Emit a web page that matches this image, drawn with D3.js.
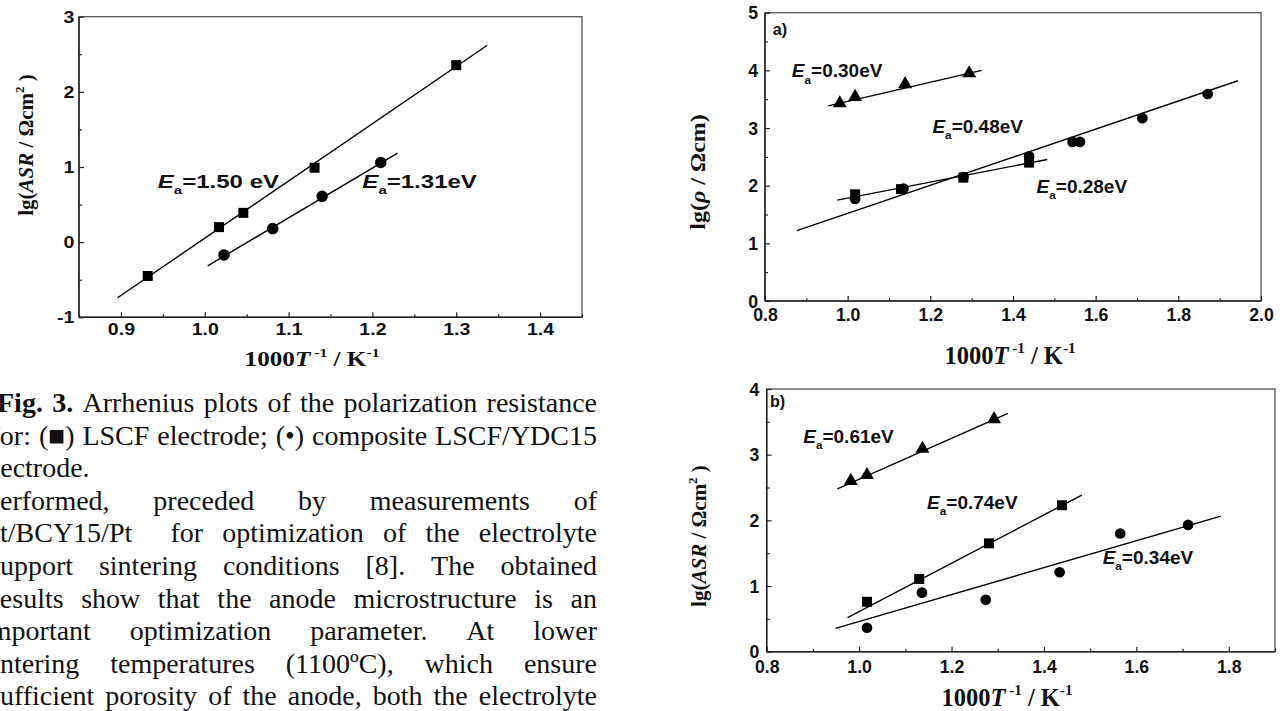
<!DOCTYPE html>
<html lang="en">
<head>
<meta charset="UTF-8">
<title>Arrhenius plots</title>
<style>
  html, body { margin: 0; padding: 0; background: #fff; overflow: hidden; }
  svg { display: block; }
  .axis .domain { display: none; }
  .axis .tick line { stroke: #222; stroke-width: 1.2px; }
  .axis .tick text { font-family: "Liberation Sans", Arial, sans-serif; font-weight: bold; fill: #111; }
</style>
</head>
<body>
<svg id="page" width="1288" height="711"></svg>
<script src="https://d3js.org/d3.v7.min.js"></script>
<script>
// ---------- Fig. 3 (left): polarization resistance ----------
const fig3XTicks = [0.9, 1.0, 1.1, 1.2, 1.3, 1.4];
const fig3YTicks = [-1, 0, 1, 2, 3];
const lscfX = [0.932, 1.017, 1.046, 1.131, 1.300];
const lscfY = [-0.45, 0.20, 0.39, 0.99, 2.355];
const lscfFitX = [0.896, 1.337];
const lscfFitY = [-0.74, 2.62];
const compX = [1.023, 1.081, 1.140, 1.210];
const compY = [-0.17, 0.18, 0.61, 1.06];
const compFitX = [1.0035, 1.230];
const compFitY = [-0.315, 1.184];
const fig3NoteX = [0.944, 1.188];
const fig3NoteY = [0.715, 0.715];
const fig3NoteText = ['=1.50 eV', '=1.31eV'];

// ---------- a) resistivity ----------
const aXTicks = [0.8, 1.0, 1.2, 1.4, 1.6, 1.8, 2.0];
const aYTicks = [0, 1, 2, 3, 4, 5];
const aTriX = [0.981, 1.018, 1.139, 1.294];
const aTriY = [3.43, 3.54, 3.76, 3.95];
const aTriFitX = [0.953, 1.324];
const aTriFitY = [3.385, 4.0];
const aCircX = [1.018, 1.135, 1.280, 1.439, 1.544, 1.562, 1.713, 1.871];
const aCircY = [1.77, 1.95, 2.15, 2.51, 2.76, 2.76, 3.17, 3.59];
const aCircFitX = [0.877, 1.944];
const aCircFitY = [1.22, 3.82];
const aSqX = [1.018, 1.129, 1.280, 1.439];
const aSqY = [1.85, 1.94, 2.14, 2.40];
const aSqFitX = [0.975, 1.483];
const aSqFitY = [1.75, 2.455];
const aNoteX = [0.865, 1.205, 1.457];
const aNoteY = [3.877, 2.917, 1.877];
const aNoteText = ['=0.30eV', '=0.48eV', '=0.28eV'];

// ---------- b) area specific resistance ----------
const bXTicks = [0.8, 1.0, 1.2, 1.4, 1.6, 1.8];
const bYTicks = [0, 1, 2, 3, 4];
const bTriX = [0.982, 1.017, 1.137, 1.292];
const bTriY = [2.60, 2.69, 3.09, 3.54];
const bTriFitX = [0.953, 1.322];
const bTriFitY = [2.48, 3.63];
const bSqX = [1.017, 1.130, 1.281, 1.439];
const bSqY = [0.76, 1.107, 1.65, 2.23];
const bSqFitX = [0.975, 1.482];
const bSqFitY = [0.52, 2.385];
const bCircX = [1.017, 1.136, 1.274, 1.434, 1.565, 1.712];
const bCircY = [0.365, 0.90, 0.79, 1.21, 1.80, 1.93];
const bCircFitX = [0.949, 1.783];
const bCircFitY = [0.356, 2.065];
const bNoteX = [0.879, 1.147, 1.527];
const bNoteY = [3.18, 2.167, 1.33];
const bNoteText = ['=0.61eV', '=0.74eV', '=0.34eV'];

// ---------- text column ----------
const bodyLines = [
  'Fig. 3. Arrhenius plots of the polarization resistance',
  'for: (\u25A0) LSCF electrode; (\u2022) composite LSCF/YDC15',
  'electrode.',
  'performed, preceded by measurements of',
  'Pt/BCY15/Pt  for optimization of the electrolyte',
  'support sintering conditions [8]. The obtained',
  'results show that the anode microstructure is an',
  'important optimization parameter. At lower',
  'sintering temperatures (1100\u00BAC), which ensure',
  'sufficient porosity of the anode, both the electrolyte'
];
const bodyIndent = [-3, -9.5, -20, -14, -15.6, -11, -9.5, -18, -18.7, -11];

const SANS = '"Liberation Sans", Arial, sans-serif';
const SERIF = '"Liberation Serif", "Times New Roman", serif';

const svg = d3.select('#page');
svg.append('rect').attr('width', 1288).attr('height', 711).attr('fill', '#fff');

// tspans with italic / sub / sup parts
function styled(t, parts, fs) {
  let shift = 0;
  parts.forEach(p => {
    const target = p.sup ? -0.45 * fs : p.sub ? 0.32 * fs : 0;
    const ts = t.append('tspan').text(p.t);
    if (target !== shift) ts.attr('dy', target - shift);
    shift = target;
    if (p.sup || p.sub) ts.attr('font-size', 0.62 * fs);
    if (p.i) ts.attr('font-style', 'italic');
  });
}

function putText(g, x, y, parts, o) {
  const t = g.append('text')
    .attr('transform', `translate(${x},${y}) scale(${o.sx || 1},1)` + (o.rotate ? ' rotate(-90)' : ''))
    .attr('font-family', o.family)
    .attr('font-weight', 'bold')
    .attr('font-size', o.fs)
    .attr('text-anchor', o.anchor || 'start')
    .attr('fill', '#111');
  styled(t, parts, o.fs);
  return t;
}

function minorTicks(dom, majors) {
  const half = (majors[1] - majors[0]) / 2;
  return d3.range(Math.ceil(dom[0] / half - 1e-6) * half, dom[1] + 1e-6, half)
    .filter(v => !majors.some(m => Math.abs(m - v) < 1e-6));
}

function drawChart(c) {
  const g = svg.append('g');
  const x = d3.scaleLinear().domain(c.xDom).range([c.box.l, c.box.r]);
  const y = d3.scaleLinear().domain(c.yDom).range([c.box.b, c.box.t]);

  // frame
  g.append('rect')
    .attr('x', c.box.l).attr('y', c.box.t)
    .attr('width', c.box.r - c.box.l).attr('height', c.box.b - c.box.t)
    .attr('fill', 'none').attr('stroke', '#555').attr('stroke-width', 1.3);

  // minor ticks
  g.append('g').attr('class', 'axis').attr('transform', `translate(0,${c.box.b})`)
    .call(d3.axisBottom(x).tickValues(minorTicks(c.xDom, c.xTicks)).tickSizeInner(-3).tickSizeOuter(0).tickFormat(''));
  g.append('g').attr('class', 'axis').attr('transform', `translate(${c.box.l},0)`)
    .call(d3.axisLeft(y).tickValues(minorTicks(c.yDom, c.yTicks)).tickSizeInner(-3).tickSizeOuter(0).tickFormat(''));

  // major ticks + labels
  const xa = g.append('g').attr('class', 'axis').attr('transform', `translate(0,${c.box.b})`)
    .call(d3.axisBottom(x).tickValues(c.xTicks).tickSizeInner(-5).tickSizeOuter(0)
      .tickPadding(c.xPad).tickFormat(d => d.toFixed(1)));
  const ya = g.append('g').attr('class', 'axis').attr('transform', `translate(${c.box.l},0)`)
    .call(d3.axisLeft(y).tickValues(c.yTicks).tickSizeInner(-5).tickSizeOuter(0)
      .tickPadding(c.yPad).tickFormat(d => String(d)));
  [xa, ya].forEach(a => a.selectAll('text')
    .attr('font-size', c.tickFs)
    .attr('transform', `scale(${c.tickSx},1)`));

  // axis lines (left / bottom darker)
  g.append('line').attr('x1', c.box.l).attr('x2', c.box.r).attr('y1', c.box.b).attr('y2', c.box.b)
    .attr('stroke', '#222').attr('stroke-width', 1.5);
  g.append('line').attr('x1', c.box.l).attr('x2', c.box.l).attr('y1', c.box.t).attr('y2', c.box.b)
    .attr('stroke', '#222').attr('stroke-width', 1.5);

  // fitted lines
  const line = d3.line().x(d => x(d[0])).y(d => y(d[1]));
  c.fits.forEach(f => {
    g.append('path').datum(d3.zip(f.x, f.y))
      .attr('d', line).attr('fill', 'none').attr('stroke', '#000').attr('stroke-width', 1.4);
  });

  // markers
  c.series.forEach(s => {
    g.append('g').selectAll('path').data(d3.zip(s.x, s.y)).join('path')
      .attr('transform', d => `translate(${x(d[0])},${y(d[1])})`)
      .attr('d', d3.symbol().type(s.shape).size(s.size))
      .attr('fill', '#000');
  });

  // activation energy notes
  c.notes.x.forEach((nx, i) => {
    putText(g, x(nx), y(c.notes.y[i]),
      [{ t: 'E', i: true }, { t: 'a', sub: true }, { t: c.notes.text[i] }],
      { family: SANS, fs: c.noteFs, sx: c.noteSx });
  });
  if (c.tag) {
    putText(g, x(c.tag.x), y(c.tag.y), [{ t: c.tag.text }], { family: SANS, fs: 17, sx: 0.95 });
  }

  // axis titles
  const xt = c.xTitle, yt = c.yTitle;
  putText(g, xt.cx, xt.base, xt.parts, { family: SERIF, fs: xt.fs, sx: xt.sx, anchor: 'middle' });
  putText(g, yt.base, yt.cy, yt.parts, { family: SERIF, fs: yt.fs, sx: yt.sx, anchor: 'middle', rotate: true });
}

const xTitleParts = [{ t: '1000' }, { t: 'T', i: true }, { t: ' -1', sup: true }, { t: ' / K' }, { t: '-1', sup: true }];
const asrParts = [{ t: 'lg(' }, { t: 'ASR', i: true }, { t: ' / \u03A9cm' }, { t: '2', sup: true }, { t: ' )' }];
const rhoParts = [{ t: 'lg(' }, { t: '\u03C1', i: true }, { t: ' / \u03A9cm)' }];

drawChart({
  box: { l: 79, t: 16.7, r: 582, b: 317.3 },
  xDom: [0.85, 1.45], yDom: [-1, 3], xTicks: fig3XTicks, yTicks: fig3YTicks,
  xPad: 6, yPad: 4, tickFs: 17, tickSx: 1.15,
  fits: [{ x: lscfFitX, y: lscfFitY }, { x: compFitX, y: compFitY }],
  series: [
    { x: lscfX, y: lscfY, shape: d3.symbolSquare, size: 100 },
    { x: compX, y: compY, shape: d3.symbolCircle, size: 105 }
  ],
  notes: { x: fig3NoteX, y: fig3NoteY, text: fig3NoteText },
  noteFs: 18.5, noteSx: 1.3,
  xTitle: { cx: 312, base: 366, fs: 21, sx: 1.2, parts: xTitleParts },
  yTitle: { base: 33, cy: 145, fs: 21, sx: 0.95, parts: asrParts }
});

drawChart({
  box: { l: 765, t: 12.7, r: 1261, b: 301 },
  xDom: [0.8, 2.0], yDom: [0, 5], xTicks: aXTicks, yTicks: aYTicks,
  xPad: 7, yPad: 7.5, tickFs: 19, tickSx: 0.93,
  fits: [{ x: aTriFitX, y: aTriFitY }, { x: aCircFitX, y: aCircFitY }, { x: aSqFitX, y: aSqFitY }],
  series: [
    { x: aTriX, y: aTriY, shape: d3.symbolTriangle, size: 85 },
    { x: aCircX, y: aCircY, shape: d3.symbolCircle, size: 90 },
    { x: aSqX, y: aSqY, shape: d3.symbolSquare, size: 100 }
  ],
  notes: { x: aNoteX, y: aNoteY, text: aNoteText },
  noteFs: 19, noteSx: 1,
  tag: { x: 0.819, y: 4.61, text: 'a)' },
  xTitle: { cx: 1010, base: 364, fs: 24.5, sx: 1, parts: xTitleParts },
  yTitle: { base: 705, cy: 172, fs: 24, sx: 0.85, parts: rhoParts }
});

drawChart({
  box: { l: 766.7, t: 389, r: 1275, b: 651.7 },
  xDom: [0.8, 1.9], yDom: [0, 4], xTicks: bXTicks, yTicks: bYTicks,
  xPad: 8, yPad: 8, tickFs: 19, tickSx: 0.93,
  fits: [{ x: bTriFitX, y: bTriFitY }, { x: bSqFitX, y: bSqFitY }, { x: bCircFitX, y: bCircFitY }],
  series: [
    { x: bTriX, y: bTriY, shape: d3.symbolTriangle, size: 85 },
    { x: bSqX, y: bSqY, shape: d3.symbolSquare, size: 100 },
    { x: bCircX, y: bCircY, shape: d3.symbolCircle, size: 90 }
  ],
  notes: { x: bNoteX, y: bNoteY, text: bNoteText },
  noteFs: 19, noteSx: 1,
  tag: { x: 0.807, y: 3.72, text: 'b)' },
  xTitle: { cx: 1007, base: 706, fs: 24.5, sx: 1, parts: xTitleParts },
  yTitle: { base: 706, cy: 536, fs: 21, sx: 1, parts: asrParts }
});

// ---------- justified text column ----------
const BODY_FS = 28, BODY_SX = 1.0, RIGHT = 597, FIRST_BASE = 412, LEAD = 32.6;
const body = svg.append('g').attr('font-family', SERIF).attr('font-size', BODY_FS).attr('fill', '#111');
bodyLines.forEach((ln, i) => {
  const words = ln.split(' ');
  const base = FIRST_BASE + i * LEAD;
  const nodes = words.map((w, k) => {
    const t = body.append('text').text(w);
    if (i === 0 && k < 2) t.attr('font-weight', 'bold');
    return t;
  });
  const widths = nodes.map(t => t.node().getComputedTextLength() * BODY_SX);
  const left = bodyIndent[i];
  const justify = i !== 2;
  const natural = d3.sum(widths);
  const gap = justify ? (RIGHT - left - natural) / (words.length - 1) : 0.25 * BODY_FS * BODY_SX;
  let cx = left;
  nodes.forEach((t, k) => {
    t.attr('transform', `translate(${cx},${base}) scale(${BODY_SX},1)`);
    cx += widths[k] + gap;
  });
});
</script>
</body>
</html>
